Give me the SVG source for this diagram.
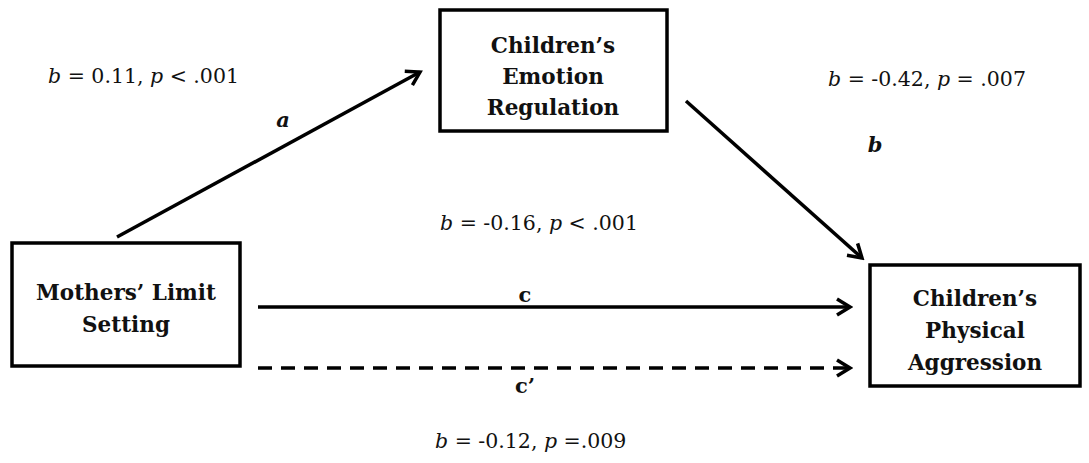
<svg xmlns="http://www.w3.org/2000/svg" width="1089" height="463" viewBox="0 0 1089 463">
<style>
.box{fill:#fff;stroke:#000;stroke-width:3.5}
.node{font-family:"DejaVu Serif","Liberation Serif",serif;font-weight:bold;font-size:21.5px;text-anchor:middle;fill:#111}
.lab{font-family:"DejaVu Serif","Liberation Serif",serif;font-size:20.5px;fill:#111}
.pl{font-family:"DejaVu Serif","Liberation Serif",serif;font-size:21px;font-weight:bold;fill:#111;text-anchor:middle}
.edge{stroke:#000;stroke-width:3.5;fill:none}
</style>
<defs>
<marker id="arr" viewBox="0 0 20 20" refX="17" refY="10" markerWidth="20" markerHeight="20" markerUnits="userSpaceOnUse" orient="auto">
<path d="M4,2 L17,10 L4,18" fill="none" stroke="#000" stroke-width="3.5"/>
</marker>
</defs>
<g id="connectors">
<line class="edge" x1="117" y1="237" x2="420" y2="72" marker-end="url(#arr)"/>
<line class="edge" x1="686" y1="101" x2="862" y2="258" marker-end="url(#arr)"/>
<line class="edge" x1="258" y1="307" x2="850" y2="307" marker-end="url(#arr)"/>
<line class="edge" x1="258" y1="368" x2="850" y2="368" stroke-dasharray="14,9" marker-end="url(#arr)"/>
</g>
<g id="node-emotion">
<rect class="box" x="440" y="10" width="227" height="121"/>
<text class="node" x="553" y="53">Children’s</text>
<text class="node" x="553" y="84">Emotion</text>
<text class="node" x="553" y="115">Regulation</text>
</g>
<g id="node-mothers">
<rect class="box" x="12" y="243" width="228" height="123"/>
<text class="node" x="126" y="300">Mothers’ Limit</text>
<text class="node" x="126" y="332">Setting</text>
</g>
<g id="node-aggression">
<rect class="box" x="870" y="265" width="210" height="121"/>
<text class="node" x="975" y="306">Children’s</text>
<text class="node" x="975" y="338">Physical</text>
<text class="node" x="975" y="370">Aggression</text>
</g>
<g id="labels">
<text class="lab" x="48" y="83"><tspan font-style="italic">b</tspan> = 0.11, <tspan font-style="italic">p</tspan> &lt; .001</text>
<text class="pl" x="283" y="127" font-style="italic">a</text>
<text class="lab" x="828" y="86"><tspan font-style="italic">b</tspan> = -0.42, <tspan font-style="italic">p</tspan> = .007</text>
<text class="pl" x="875" y="152" font-style="italic">b</text>
<text class="lab" x="440" y="230"><tspan font-style="italic">b</tspan> = -0.16, <tspan font-style="italic">p</tspan> &lt; .001</text>
<text class="pl" x="525" y="302">c</text>
<text class="pl" x="525" y="393">c’</text>
<text class="lab" x="435" y="448"><tspan font-style="italic">b</tspan> = -0.12, <tspan font-style="italic">p</tspan> =.009</text>
</g>
</svg>
